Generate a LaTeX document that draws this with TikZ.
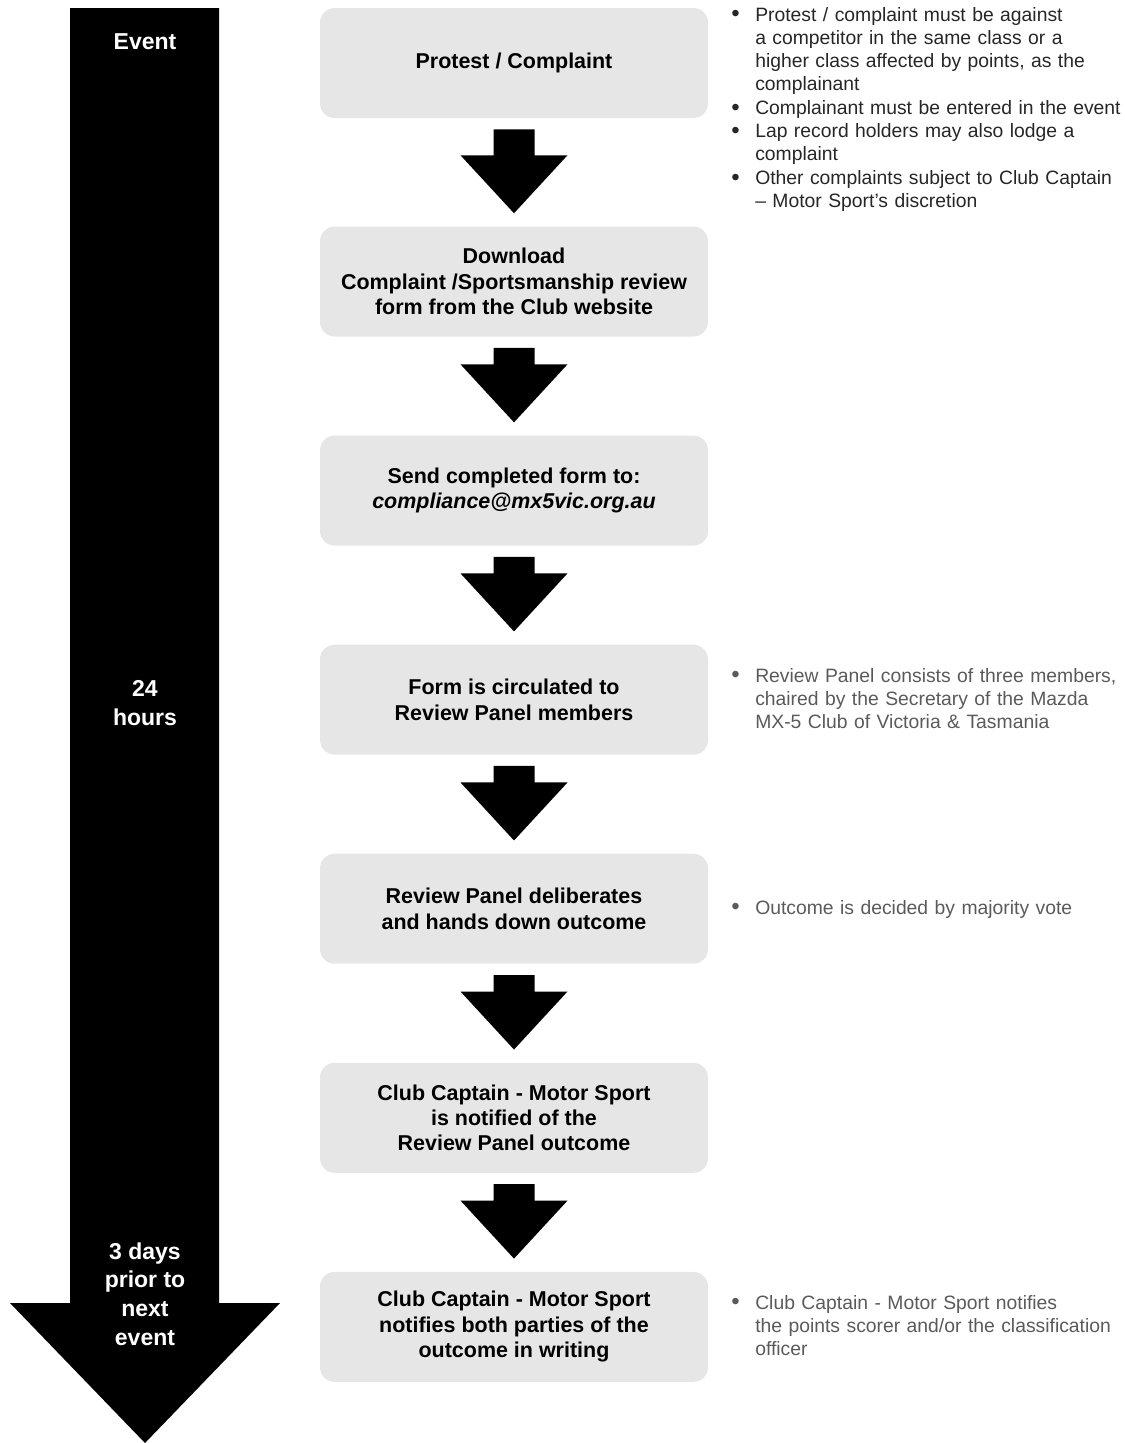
\documentclass[tikz,border=0pt]{standalone}
\usepackage{fontspec}
\setmainfont{Liberation Sans}
\usetikzlibrary{positioning,calc}
\usepackage{xcolor}
\definecolor{boxgray}{HTML}{E6E6E6}
\definecolor{notedark}{HTML}{262626}
\definecolor{notelight}{HTML}{5A5A5A}
\newcommand{\bul}[1]{\noindent\makebox[18pt][l]{\raisebox{-0.6pt}{\fontsize{18}{17}\selectfont\textbullet}}\begin{minipage}[t]{300pt}\raggedright\strut #1\strut\end{minipage}\par}

\begin{document}
\begin{tikzpicture}[
				x=0.75pt,y=0.75pt,
				stepbox/.style={rectangle,rounded corners=11pt,fill=boxgray,minimum width=291pt,minimum height=82.5pt,align=center,font=\fontsize{16.1}{19.1}\selectfont\bfseries},
				timelbl/.style={text=white,align=center,font=\fontsize{17.25}{21.4}\selectfont\bfseries},
				note/.style={anchor=base west,inner sep=0pt,text width=330pt,align=left,font=\fontsize{14.5}{17.25}\selectfont}
				]
				\useasboundingbox (0,0) rectangle (1125,-1443);
				
				% Freccia del tempo
				\fill (70,-8) -- (219,-8) -- (219,-1303) -- (280,-1303) -- (145,-1443) -- (10,-1303) -- (70,-1303) -- cycle;
				\node[timelbl] (tevent) at (145,-42) {Event};
				\node[timelbl] (tday) at (145,-703) {24\\hours};
				\node[timelbl] (tnext) at (145,-1294) {3 days\\prior to\\next\\event};
				
				% Passi
				\node[stepbox] (protest) at (514,-63) {\raisebox{-2pt}{Protest / Complaint}};
				\node[stepbox,below=81pt of protest] (download) {Download\\Complaint /Sportsmanship review\\form from the Club website};
				\node[stepbox,below=73.9pt of download] (send) {Send completed form to:\\\textit{compliance@mx5vic.org.au}};
				\node[stepbox,below=73.9pt of send] (circulate) {Form is circulated to\\Review Panel members};
				\node[stepbox,below=73.9pt of circulate] (deliberate) {Review Panel deliberates\\and hands down outcome};
				\node[stepbox,below=73.9pt of deliberate] (notified) {Club Captain - Motor Sport\\is notified of the\\Review Panel outcome};
				\node[stepbox,below=73.9pt of notified] (notify) {Club Captain - Motor Sport\\notifies both parties of the\\outcome in writing};
				
				% Frecce tra i passi
				\foreach \a/\b in {protest/download,download/send,send/circulate,circulate/deliberate,deliberate/notified,notified/notify}
				\fill ($(\a.south)+(-20.5,-11)$) -- ($(\a.south)+(20.5,-11)$) -- ($(\b.north)+(20.5,71)$) -- ($(\b.north)+(53.5,71)$) -- ($(\b.north)+(0,13)$) -- ($(\b.north)+(-53.5,71)$) -- ($(\b.north)+(-20.5,71)$) -- cycle;
				
				% Note
				\node[note,text=notedark] (rules) at (731,-21) {\bul{Protest / complaint must be against\\a competitor in the same class or a\\higher class affected by points, as the\\complainant}\bul{Complainant must be entered in the event}\bul{Lap record holders may also lodge a\\complaint}\bul{Other complaints subject to Club Captain\\– Motor Sport’s discretion}};
				\node[note,text=notelight] (panel) at (731,-682) {\bul{Review Panel consists of three members,\\chaired by the Secretary of the Mazda\\MX-5 Club of Victoria \& Tasmania}};
				\node[note,text=notelight] (vote) at (731,-914) {\bul{Outcome is decided by majority vote}};
				\node[note,text=notelight] (scorer) at (731,-1309) {\bul{Club Captain - Motor Sport notifies\\the points scorer and/or the classification\\officer}};
				
			\end{tikzpicture}
\end{document}
